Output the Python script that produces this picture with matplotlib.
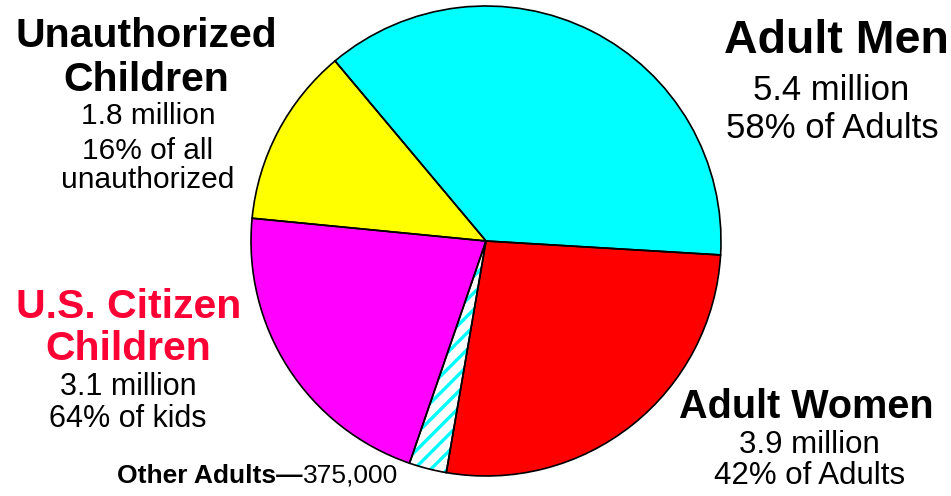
import matplotlib
matplotlib.use("Agg")
import matplotlib.pyplot as plt

plt.rcParams['font.family'] = ['Liberation Sans', 'DejaVu Sans']
plt.rcParams['hatch.linewidth'] = 2.4

# data (millions), drawn counter-clockwise from the right
groups = ["Adult Men", "Unauthorized Children", "U.S. Citizen Children",
          "Other Adults", "Adult Women"]
values = [5.4, 1.8, 3.1, 0.375, 3.9]
colors = ["#00ffff", "#ffff00", "#ff00ff", "white", "#ff0000"]

W, H = 951, 496
fig = plt.figure(figsize=(W / 100, H / 100), dpi=100)
ax = fig.add_axes([0, 0, 1, 1])

cx, cy, r = 486, H - 241, 235
wedges, _ = ax.pie(values, colors=colors, startangle=-3.4, counterclock=True,
                   center=(cx, cy), radius=r,
                   wedgeprops=dict(linewidth=0))
# striped slice for other adults
wedges[3].set_hatch("//")
wedges[3].set_edgecolor("#00ffff")
# black outlines on top
ax.pie(values, colors=["none"] * len(values), startangle=-3.4,
       center=(cx, cy), radius=r,
       wedgeprops=dict(linewidth=1.2, edgecolor="black"))

ax.set_xlim(0, W)
ax.set_ylim(0, H)
ax.set_aspect("equal")
ax.axis("off")

red = "#fc0035"


def line(x, y, s, size, bold=False, color="black", ha="center"):
    return ax.text(x, H - y, s, fontsize=size,
                   fontweight="bold" if bold else "normal",
                   color=color, ha=ha, va="baseline")


# Unauthorized children
line(146, 47, "Unauthorized", 29.5, True)
line(146, 91, "Children", 29.5, True)
line(148, 124, "1.8 million", 21.5)
line(148, 159, "16% of all", 21.5)
line(148, 188, "unauthorized", 21.5)

# Adult men
line(836, 53, "Adult Men", 33.5, True)
line(831, 100, "5.4 million", 25)
line(832, 138, "58% of Adults", 25)

# U.S. citizen children
line(129, 318, "U.S. Citizen", 29.5, True, red)
line(128, 360, "Children", 29.5, True, red)
line(128, 395, "3.1 million", 22)
line(128, 427, "64% of kids", 22)

# Adult women
line(806, 418, "Adult Women", 28.5, True)
line(809, 453, "3.9 million", 22.5)
line(810, 484, "42% of Adults", 22.5)

# Other adults
t = line(117, 483, "Other Adults\u2014", 19, True, ha="left")
ax.annotate("375,000", xy=(1, 0), xycoords=t, fontsize=19,
            ha="left", va="bottom")

fig.savefig("out.png", dpi=100)
